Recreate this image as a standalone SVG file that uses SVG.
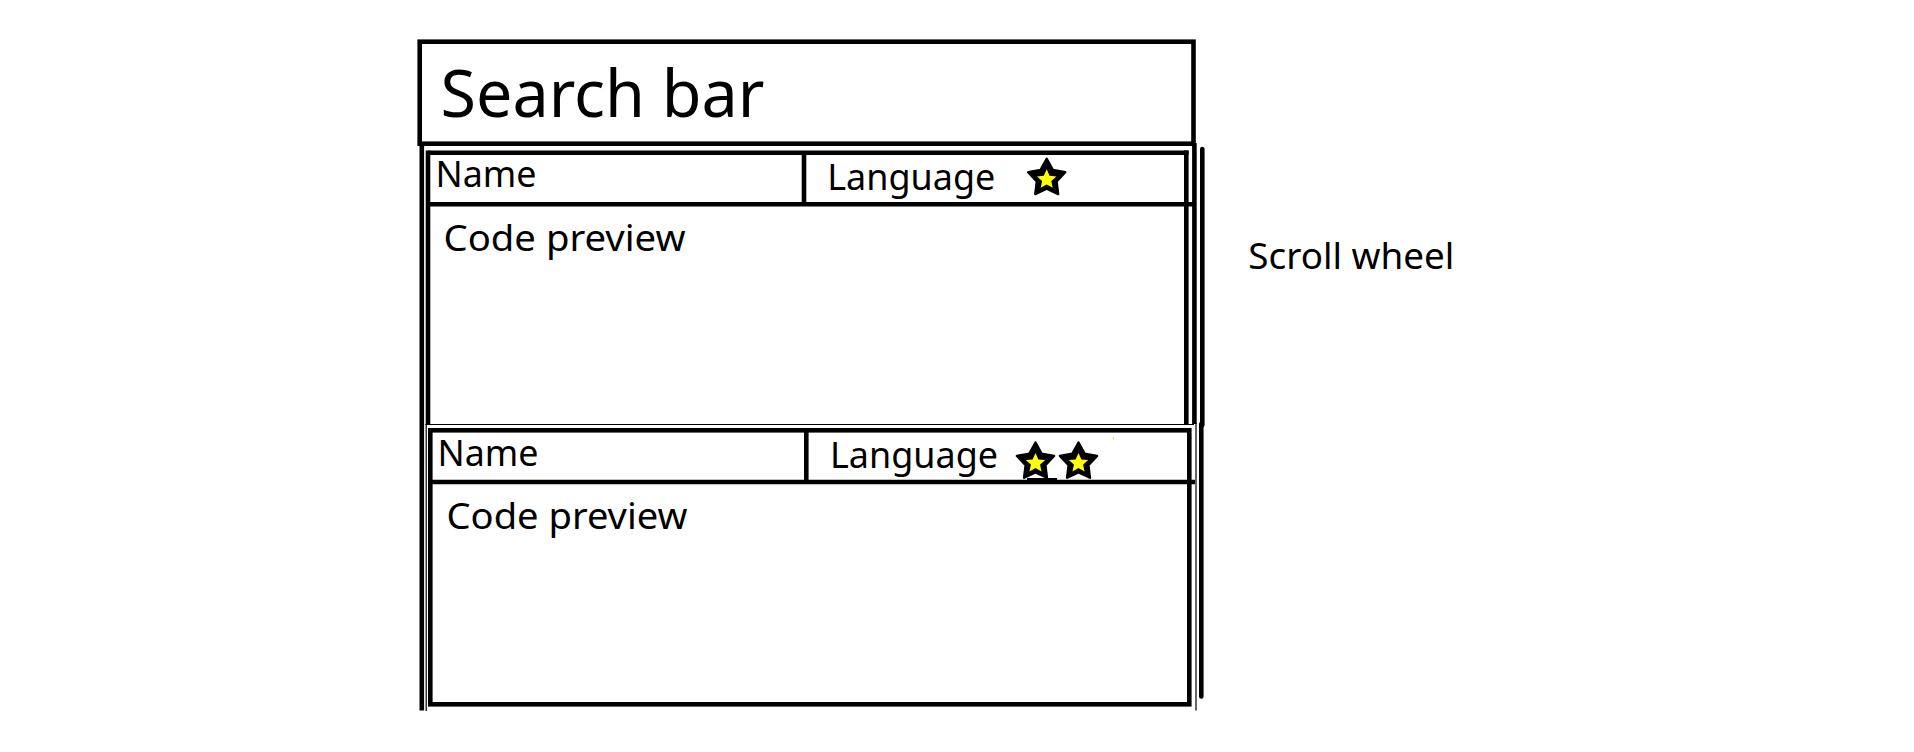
<svg xmlns="http://www.w3.org/2000/svg" xmlns:xlink="http://www.w3.org/1999/xlink" width="1914" height="752" viewBox="0 0 1914 752">
  <style>
    .box { fill: none; stroke: #000; stroke-width: 4.6; }
    .ln { stroke: #000; stroke-width: 4.6; fill: none; }
    .thin { stroke: #000; stroke-width: 1.2; fill: none; }
    .txt { font-family: "Noto Sans", "Open Sans", "Liberation Sans", sans-serif; fill: #000; }
    .big { font-size: 65px; }
    .mid { font-size: 37px; }
  </style>
  <defs>
    <g id="star">
      <polygon points="0,-19.5 6.1,-8.4 18.55,-6.03 9.9,3.2 11.46,15.78 0,10.4 -11.46,15.78 -9.9,3.2 -18.55,-6.03 -6.1,-8.4" fill="#000" stroke="#000" stroke-width="2.4" stroke-linejoin="round"/>
      <polygon points="0,-9.8 2.9,-3.4 9.7,-2.7 4.6,1.8 6,8.6 0,5.3 -6,8.6 -4.6,1.8 -9.7,-2.7 -2.9,-3.4" fill="#FFFF00" transform="translate(0,0.8)"/>
    </g>
  </defs>
  <rect x="0" y="0" width="1914" height="752" fill="#fff"/>

  <g id="search-bar">
    <rect class="box" x="419.7" y="41.7" width="773.8" height="102"/>
    <text class="txt big" x="440.5" y="117.3" textLength="324" lengthAdjust="spacingAndGlyphs">Search bar</text>
  </g>

  <g id="list-container">
    <line class="ln" x1="421.8" y1="143" x2="421.8" y2="710.5"/>
    <line class="thin" x1="426.2" y1="424" x2="426.2" y2="711"/>
    <line class="ln" x1="1194.4" y1="143" x2="1194.4" y2="424"/>
    <line class="thin" x1="1196" y1="423" x2="1196" y2="710.5"/>
  </g>

  <g id="item-1">
    <line class="ln" x1="428" y1="152.8" x2="1188.6" y2="152.8"/>
    <line class="ln" x1="428" y1="150.5" x2="428" y2="425"/>
    <line class="ln" x1="1186.3" y1="150.5" x2="1186.3" y2="424"/>
    <line class="thin" x1="425.5" y1="424.5" x2="1194" y2="424.5"/>
    <line class="ln" x1="428" y1="204.3" x2="1193" y2="204.3"/>
    <line class="ln" x1="804" y1="152.8" x2="804" y2="204.3"/>
    <text class="txt mid" x="435.5" y="187.3" textLength="101" lengthAdjust="spacingAndGlyphs">Name</text>
    <text class="txt mid" x="827.3" y="190" textLength="168" lengthAdjust="spacingAndGlyphs">Language</text>
    <use xlink:href="#star" href="#star" x="1046.7" y="178.3"/>
    <text class="txt mid" x="443.5" y="251" textLength="242" lengthAdjust="spacingAndGlyphs">Code preview</text>
  </g>

  <g id="item-2">
    <rect class="box" x="430.3" y="430.3" width="759" height="274"/>
    <line class="ln" x1="430.3" y1="482" x2="1195" y2="482"/>
    <rect x="1027" y="478" width="30" height="4" fill="#000"/>
    <line class="ln" x1="806.3" y1="430.3" x2="806.3" y2="482"/>
    <text class="txt mid" x="437.5" y="466" textLength="101" lengthAdjust="spacingAndGlyphs">Name</text>
    <text class="txt mid" x="830" y="467.7" textLength="168" lengthAdjust="spacingAndGlyphs">Language</text>
    <use xlink:href="#star" href="#star" x="1035.5" y="462"/>
    <use xlink:href="#star" href="#star" x="1078.5" y="462"/>
    <rect x="1113" y="437" width="1" height="2" fill="#FFD700"/>
    <text class="txt mid" x="446.5" y="528.5" textLength="241" lengthAdjust="spacingAndGlyphs">Code preview</text>
  </g>

  <g id="scroll-wheel">
    <line x1="1202.3" y1="149" x2="1202.3" y2="425" stroke="#000" stroke-width="4.6" stroke-linecap="round"/>
    <line x1="1201.3" y1="424" x2="1201.3" y2="696.5" stroke="#000" stroke-width="4.6" stroke-linecap="round"/>
  </g>

  <g id="scroll-label">
    <text class="txt mid" x="1248.3" y="269.3" textLength="206" lengthAdjust="spacingAndGlyphs">Scroll wheel</text>
  </g>
</svg>
